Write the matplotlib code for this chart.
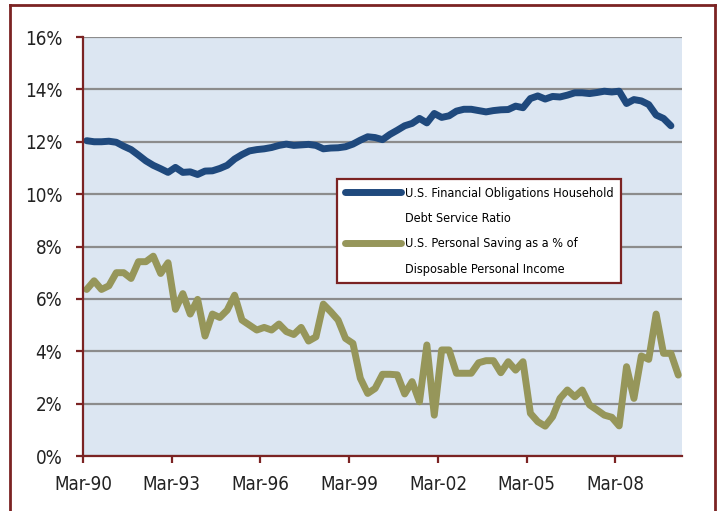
from matplotlib import pyplot as plt
from matplotlib.lines import Line2D
import numpy as np

plt.rcParams['font.family'] = ['DejaVu Sans']
plt.rcParams['font.stretch'] = 'condensed'

# quarterly data, Mar-90 onwards
debt_service = [12.04, 12.0, 12.0, 12.02, 11.98, 11.83, 11.7, 11.49, 11.27, 11.1,
                10.97, 10.83, 11.02, 10.83, 10.85, 10.75, 10.88, 10.89, 10.98, 11.1,
                11.34, 11.51, 11.65, 11.7, 11.73, 11.78, 11.86, 11.91, 11.86, 11.88,
                11.9, 11.86, 11.73, 11.76, 11.77, 11.81, 11.91, 12.06, 12.19, 12.16,
                12.08, 12.28, 12.44, 12.61, 12.7, 12.89, 12.72, 13.08, 12.93, 12.99,
                13.17, 13.24, 13.24, 13.19, 13.14, 13.19, 13.22, 13.23, 13.36, 13.3,
                13.65, 13.75, 13.63, 13.73, 13.71, 13.78, 13.87, 13.87, 13.84, 13.88,
                13.93, 13.9, 13.93, 13.46, 13.61, 13.56, 13.42, 13.02, 12.89, 12.61]

saving_rate = [6.36, 6.69, 6.36, 6.5, 7.0, 7.0, 6.78, 7.42, 7.42, 7.63,
               6.97, 7.38, 5.6, 6.2, 5.42, 5.98, 4.58, 5.42, 5.29, 5.57,
               6.14, 5.19, 5.0, 4.81, 4.91, 4.81, 5.04, 4.75, 4.64, 4.91,
               4.39, 4.55, 5.8, 5.51, 5.19, 4.49, 4.3, 2.97, 2.39, 2.58,
               3.12, 3.12, 3.1, 2.37, 2.84, 2.07, 4.24, 1.56, 4.05, 4.05,
               3.16, 3.16, 3.16, 3.56, 3.64, 3.64, 3.18, 3.6, 3.28, 3.6,
               1.63, 1.31, 1.14, 1.5, 2.2, 2.52, 2.26, 2.52, 1.95, 1.76,
               1.56, 1.48, 1.15, 3.41, 2.2, 3.82, 3.69, 5.42, 3.92, 3.92,
               3.09]

tick_labels = ['Mar-90', 'Mar-93', 'Mar-96', 'Mar-99', 'Mar-02', 'Mar-05', 'Mar-08']
debt_label = ['U.S. Financial Obligations Household', 'Debt Service Ratio']
saving_label = ['U.S. Personal Saving as a % of', 'Disposable Personal Income']

red = '#7B2323'
blue = '#1F497D'
olive = '#96965A'

fig = plt.figure(figsize=(7.18, 5.11), dpi=100)
ax = fig.add_axes([83 / 718, 1 - 456 / 511, 599 / 718, 419 / 511])
ax.set_facecolor('#DCE6F2')

debt_line, = ax.plot(np.arange(len(debt_service)), debt_service, color=blue, lw=5,
                     solid_joinstyle='round', solid_capstyle='round')
saving_line, = ax.plot(np.arange(len(saving_rate)), saving_rate, color=olive, lw=5,
                       solid_joinstyle='round', solid_capstyle='round')

ax.set_xlim(-0.5, 80.5)
ax.set_ylim(0, 16)
ax.set_xticks(np.arange(len(tick_labels)) * 12 - 0.5)
ax.set_xticklabels(tick_labels)
ax.set_yticks(np.arange(0, 17, 2))
ax.set_yticklabels([f'{v}%' for v in range(0, 17, 2)])

ax.grid(axis='y', color='#8C8C8C', lw=1.6)
ax.set_axisbelow(True)
for side in ['top', 'right']:
    ax.spines[side].set_visible(False)
for side in ['left', 'bottom']:
    ax.spines[side].set_color(red)
    ax.spines[side].set_linewidth(1.6)
ax.tick_params(axis='both', direction='out', length=5, width=1.6, color=red,
               labelsize=13.5, labelcolor='#222222')
ax.tick_params(axis='y', pad=10)
ax.tick_params(axis='x', pad=9)

# legend: handle sits next to the first line of each two-line label
blank = Line2D([], [], color='none')
handles = [debt_line, blank, saving_line, blank]
labels = debt_label + saving_label
leg = ax.legend(handles, labels, loc='upper left', bbox_to_anchor=(0.424, 0.661),
                borderaxespad=0, fontsize=9.1, fancybox=False, framealpha=1,
                edgecolor=red, handlelength=4.5, handletextpad=0.25,
                labelspacing=0.98, borderpad=0.6)
leg.get_frame().set_linewidth(1.6)

# outer frame
y_top = 1 - 5 / 511
for xs, ys in [([10 / 718, 10 / 718], [0, y_top]),
               ([10 / 718, 715 / 718], [y_top, y_top]),
               ([715 / 718, 715 / 718], [y_top, 0])]:
    fig.add_artist(Line2D(xs, ys, transform=fig.transFigure, color=red, lw=2))

plt.savefig('out.png', dpi=100)
